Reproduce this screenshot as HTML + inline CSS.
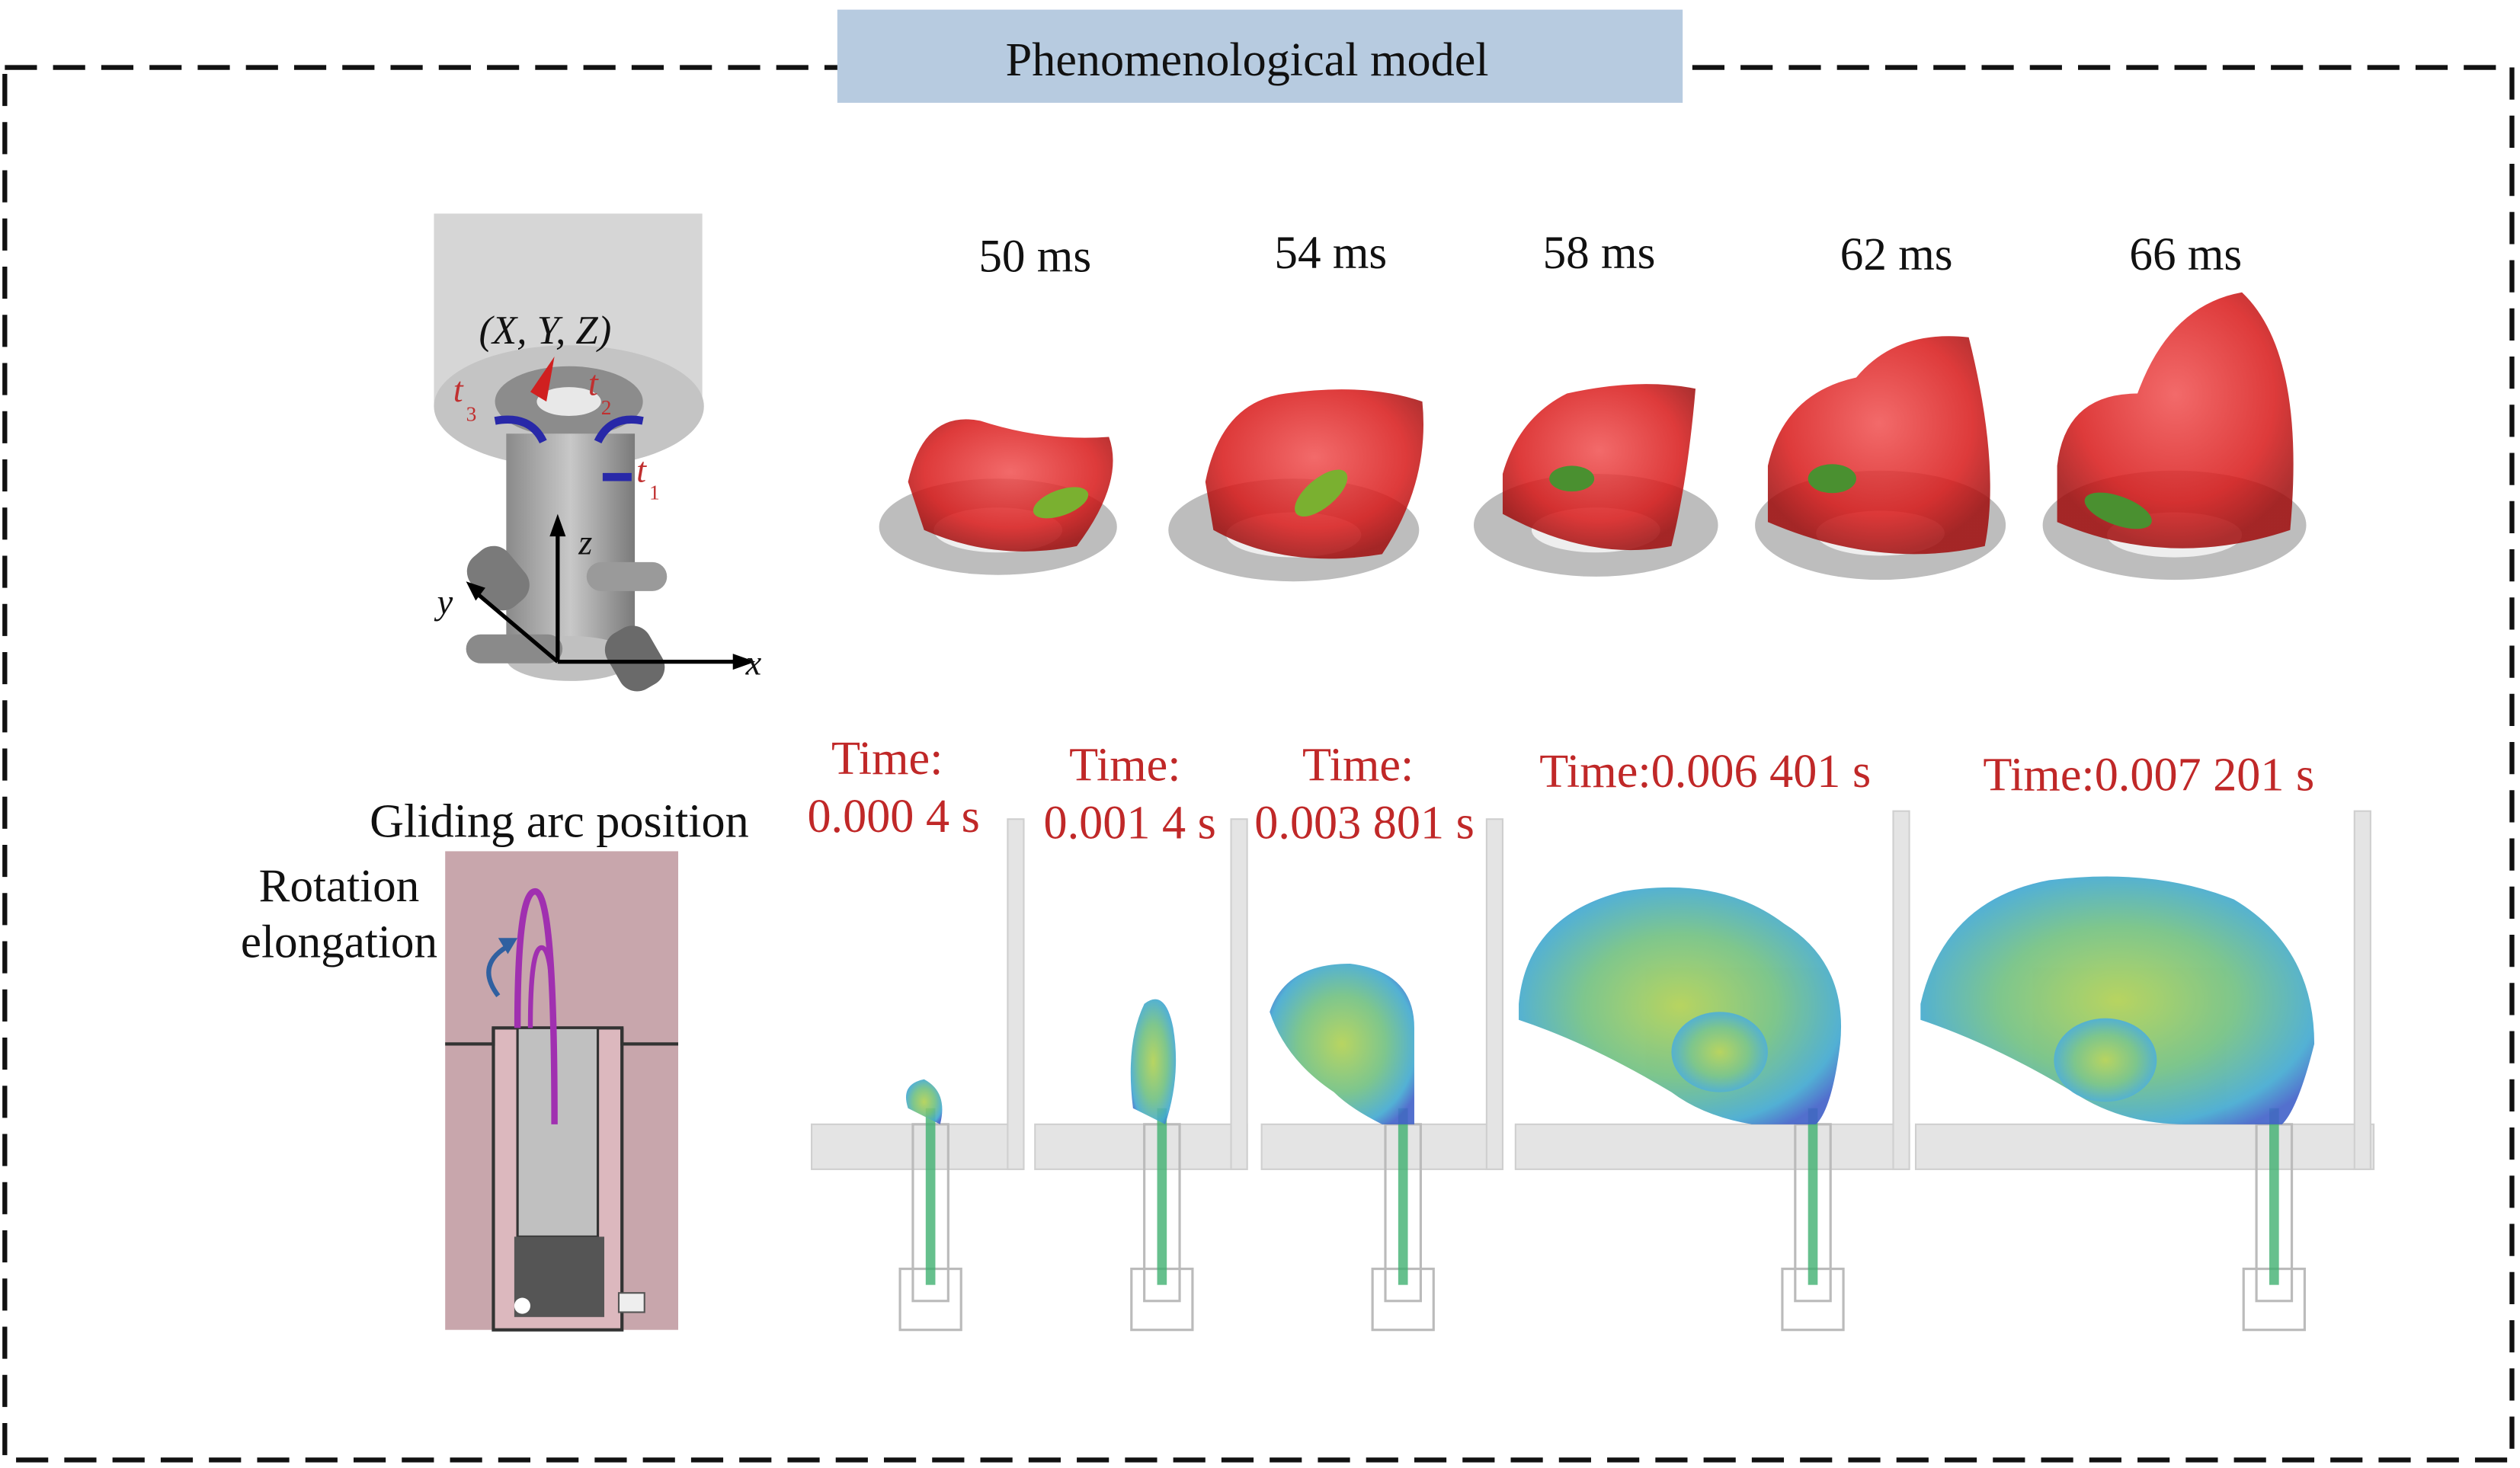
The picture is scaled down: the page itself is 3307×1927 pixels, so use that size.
<!DOCTYPE html>
<html><head><meta charset="utf-8">
<style>
html,body{margin:0;padding:0;background:#fff;}
svg{display:block;}
text{font-family:"Liberation Serif",serif;}
</style></head>
<body>
<svg width="3307" height="1927" viewBox="0 0 1568 914" preserveAspectRatio="none" xmlns="http://www.w3.org/2000/svg">
<defs>
<radialGradient id="red" cx="50%" cy="40%" r="60%"><stop offset="0" stop-color="#f05050"/><stop offset="0.7" stop-color="#d81818"/><stop offset="1" stop-color="#a00c0c"/></radialGradient>
<radialGradient id="grn" cx="50%" cy="50%" r="60%"><stop offset="0" stop-color="#b0d050"/><stop offset="0.5" stop-color="#70c080"/><stop offset="0.85" stop-color="#40a8d0"/><stop offset="1" stop-color="#4060c8"/></radialGradient>
<linearGradient id="cyl" x1="0" x2="1"><stop offset="0" stop-color="#8a8a8a"/><stop offset="0.5" stop-color="#c8c8c8"/><stop offset="1" stop-color="#7a7a7a"/></linearGradient>
</defs>
<rect x="0" y="0" width="1568" height="914" fill="#fff"/>
<rect x="3" y="42" width="1560" height="867" fill="none" stroke="#111" stroke-width="3" stroke-dasharray="20,10"/>
<rect x="521" y="6" width="526" height="58" fill="#b7cbe0"/>
<text x="776" y="47" font-size="29.5" text-anchor="middle" fill="#111">Phenomenological model</text>

<rect x="270" y="133" width="167" height="120" fill="#d6d6d6"/>
<ellipse cx="354" cy="253" rx="84" ry="38" fill="#c4c4c4"/>
<ellipse cx="354" cy="250" rx="46" ry="22" fill="#8c8c8c"/>
<ellipse cx="354" cy="250" rx="20" ry="9" fill="#e8e8e8"/>
<rect x="315" y="270" width="80" height="140" fill="url(#cyl)"/>
<ellipse cx="355" cy="410" rx="40" ry="14" fill="#c0c0c0"/>
<rect x="290" y="395" width="60" height="18" rx="9" fill="#8a8a8a"/>
<rect x="365" y="350" width="50" height="18" rx="9" fill="#9a9a9a"/>
<rect x="295" y="340" width="30" height="40" rx="12" fill="#7a7a7a" transform="rotate(-40 310 360)"/>
<rect x="380" y="390" width="30" height="40" rx="12" fill="#6a6a6a" transform="rotate(-30 395 410)"/>
<path d="M308 262 Q330 258 338 275" stroke="#2828a8" stroke-width="5" fill="none"/>
<path d="M372 275 Q380 258 400 262" stroke="#2828a8" stroke-width="5" fill="none"/>
<path d="M375 297 L393 297" stroke="#2828a8" stroke-width="5"/>
<polygon points="330,244 345,222 340,250" fill="#d02020"/>
<line x1="347" y1="412" x2="347" y2="328" stroke="#000" stroke-width="2.5"/>
<polygon points="347,320 342,334 352,334" fill="#000"/>
<line x1="347" y1="412" x2="462" y2="412" stroke="#000" stroke-width="2.5"/>
<polygon points="470,412 456,407 456,417" fill="#000"/>
<line x1="347" y1="412" x2="295" y2="368" stroke="#000" stroke-width="2.5"/>
<polygon points="290,362 302,366 296,374" fill="#000"/>
<text x="298" y="214" font-size="25" font-style="italic" fill="#111">(X, Y, Z)</text>
<text x="282" y="250" font-size="22" font-style="italic" fill="#c03030">t</text><text x="290" y="262" font-size="13" fill="#c03030">3</text>
<text x="366" y="246" font-size="22" font-style="italic" fill="#c03030">t</text><text x="374" y="258" font-size="13" fill="#c03030">2</text>
<text x="396" y="300" font-size="22" font-style="italic" fill="#c03030">t</text><text x="404" y="311" font-size="13" fill="#c03030">1</text>
<text x="360" y="345" font-size="22" font-style="italic" fill="#111">z</text>
<text x="272" y="382" font-size="22" font-style="italic" fill="#111">y</text>
<text x="464" y="420" font-size="22" font-style="italic" fill="#111">x</text>

<g font-size="29" fill="#111" text-anchor="middle">
<text x="644" y="169">50 ms</text><text x="828" y="167">54 ms</text><text x="995" y="167">58 ms</text><text x="1180" y="168">62 ms</text><text x="1360" y="168">66 ms</text>
</g>
<g>
<ellipse cx="621" cy="328" rx="74" ry="30" fill="#bdbdbd"/><ellipse cx="621" cy="330" rx="40" ry="14" fill="#eee"/>
<path d="M565 300 Q575 255 610 262 Q650 275 690 272 Q700 300 670 340 Q620 350 575 330 Z" fill="url(#red)" opacity="0.85"/>
<ellipse cx="660" cy="313" rx="18" ry="8" fill="#7ab030" transform="rotate(-20 660 313)"/>
<ellipse cx="805" cy="330" rx="78" ry="32" fill="#bdbdbd"/><ellipse cx="805" cy="333" rx="42" ry="14" fill="#eee"/>
<path d="M750 300 Q760 250 800 245 Q850 238 885 250 Q890 300 860 345 Q800 355 755 330 Z" fill="url(#red)" opacity="0.85"/>
<ellipse cx="822" cy="307" rx="20" ry="9" fill="#7ab030" transform="rotate(-40 822 307)"/>
<ellipse cx="993" cy="327" rx="76" ry="32" fill="#bdbdbd"/><ellipse cx="993" cy="330" rx="40" ry="14" fill="#eee"/>
<path d="M935 295 Q945 260 975 245 Q1020 235 1055 242 Q1050 300 1040 340 Q990 350 935 320 Z" fill="url(#red)" opacity="0.85"/>
<ellipse cx="978" cy="298" rx="14" ry="8" fill="#4a9030"/>
<ellipse cx="1170" cy="327" rx="78" ry="34" fill="#bdbdbd"/><ellipse cx="1170" cy="332" rx="40" ry="14" fill="#eee"/>
<path d="M1100 290 Q1110 245 1155 235 Q1180 205 1225 210 Q1245 290 1235 340 Q1170 355 1100 325 Z" fill="url(#red)" opacity="0.85"/>
<ellipse cx="1140" cy="298" rx="15" ry="9" fill="#4a9030"/>
<ellipse cx="1353" cy="327" rx="82" ry="34" fill="#bdbdbd"/><ellipse cx="1353" cy="333" rx="42" ry="14" fill="#eee"/>
<path d="M1280 290 Q1285 245 1330 245 Q1350 190 1395 182 Q1435 220 1425 330 Q1350 355 1280 325 Z" fill="url(#red)" opacity="0.85"/>
<ellipse cx="1318" cy="318" rx="22" ry="9" fill="#4a9030" transform="rotate(20 1318 318)"/>
</g>

<rect x="277" y="530" width="145" height="120" fill="#c8a6ac"/>
<rect x="277" y="650" width="145" height="178" fill="#c8a6ac"/>
<rect x="307" y="640" width="80" height="188" fill="#dcb8be" stroke="#333" stroke-width="2"/>
<rect x="322" y="640" width="50" height="130" fill="#c0c0c0" stroke="#333" stroke-width="1.5"/>
<rect x="320" y="770" width="56" height="50" fill="#555"/>
<circle cx="325" cy="813" r="5" fill="#fff"/>
<rect x="385" y="805" width="16" height="12" fill="#eee" stroke="#555"/>
<path d="M277 650 L307 650 L307 640 M387 640 L387 650 L422 650" stroke="#333" stroke-width="2" fill="none"/>
<path d="M322 640 Q322 555 333 555 Q345 555 345 700" stroke="#a030b0" stroke-width="4" fill="none"/>
<path d="M330 640 Q330 590 337 590 Q344 590 344 640" stroke="#a030b0" stroke-width="3" fill="none"/>
<path d="M318 588 Q295 600 310 620" stroke="#3060a0" stroke-width="3" fill="none"/>
<polygon points="322,584 310,584 316,594" fill="#3060a0"/>
<text x="348" y="521" font-size="29.5" text-anchor="middle" fill="#111">Gliding arc position</text>
<text x="211" y="561" font-size="29" text-anchor="middle" fill="#111">Rotation</text>
<text x="211" y="596" font-size="29" text-anchor="middle" fill="#111">elongation</text>

<g fill="#e4e4e4" stroke="#cfcfcf">
<rect x="505" y="700" width="132" height="28"/><rect x="627" y="510" width="10" height="218"/>
<rect x="644" y="700" width="132" height="28"/><rect x="766" y="510" width="10" height="218"/>
<rect x="785" y="700" width="150" height="28"/><rect x="925" y="510" width="10" height="218"/>
<rect x="943" y="700" width="245" height="28"/><rect x="1178" y="505" width="10" height="223"/>
<rect x="1192" y="700" width="285" height="28"/><rect x="1465" y="505" width="10" height="223"/>
</g>
<g stroke="#bbb" fill="none" stroke-width="1.5">
<rect x="568" y="700" width="22" height="110"/><rect x="712" y="700" width="22" height="110"/><rect x="862" y="700" width="22" height="110"/><rect x="1117" y="700" width="22" height="110"/><rect x="1404" y="700" width="22" height="110"/>
<rect x="560" y="790" width="38" height="38"/><rect x="704" y="790" width="38" height="38"/><rect x="854" y="790" width="38" height="38"/><rect x="1109" y="790" width="38" height="38"/><rect x="1396" y="790" width="38" height="38"/>
</g>
<g fill="#40b070" opacity="0.8">
<rect x="576" y="690" width="6" height="110"/><rect x="720" y="690" width="6" height="110"/><rect x="870" y="690" width="6" height="110"/><rect x="1125" y="690" width="6" height="110"/><rect x="1412" y="690" width="6" height="110"/>
</g>
<g opacity="0.9">
<path d="M565 690 Q560 675 575 672 Q590 680 585 700 Z" fill="url(#grn)"/>
<path d="M705 690 Q700 650 712 625 Q725 615 730 640 Q735 670 725 700 Z" fill="url(#grn)"/>
<path d="M790 630 Q800 600 840 600 Q880 605 880 640 Q880 680 880 700 L860 700 Q840 690 830 680 Q800 660 790 630 Z" fill="url(#grn)"/>
<path d="M945 625 Q950 570 1010 555 Q1070 545 1110 575 Q1150 600 1145 650 Q1140 690 1130 700 L1090 700 Q1060 695 1040 680 Q990 650 945 635 Z" fill="url(#grn)"/>
<path d="M1195 625 Q1210 560 1275 548 Q1340 540 1390 560 Q1440 590 1440 650 Q1430 690 1420 700 L1360 700 Q1320 700 1290 680 Q1240 650 1195 635 Z" fill="url(#grn)"/>
<ellipse cx="1070" cy="655" rx="30" ry="25" fill="url(#grn)"/>
<ellipse cx="1310" cy="660" rx="32" ry="26" fill="url(#grn)"/>
</g>
<g font-size="29.5" fill="#c02828" text-anchor="middle">
<text x="552" y="482">Time:</text><text x="556" y="518">0.000 4 s</text>
<text x="700" y="486">Time:</text><text x="703" y="522">0.001 4 s</text>
<text x="845" y="486">Time:</text><text x="849" y="522">0.003 801 s</text>
<text x="1061" y="490">Time:0.006 401 s</text>
<text x="1337" y="492">Time:0.007 201 s</text>
</g>
</svg>
</body></html>
